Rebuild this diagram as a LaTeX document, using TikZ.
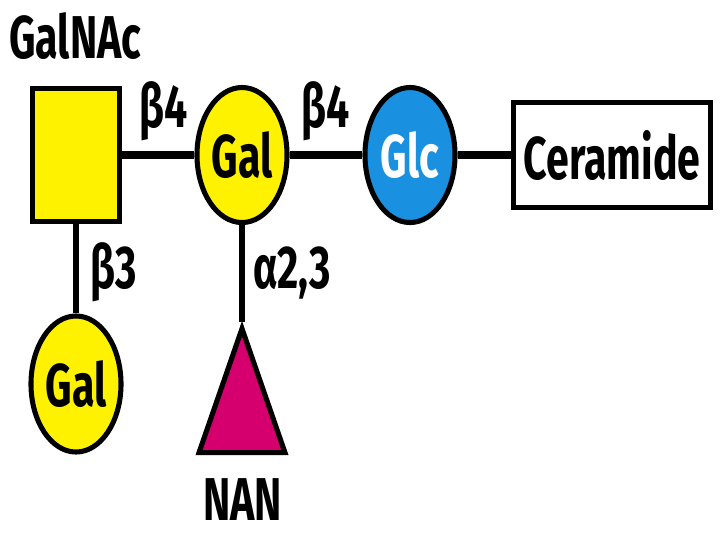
\documentclass[tikz,border=0pt]{standalone}
\usepackage{fontspec}
\setmainfont{Fira Sans}[FakeStretch=0.68]
\usetikzlibrary{shapes,positioning}
\definecolor{galyellow}{HTML}{FFF200}
\definecolor{glcblue}{HTML}{1A90E0}
\definecolor{nanpink}{HTML}{D5006D}

\begin{document}
\begin{tikzpicture}[
    x=0.025cm, y=-0.025cm,
    sugar/.style={ellipse, draw=black, line width=3.6pt, minimum width=2.25cm,
                  minimum height=3.375cm, inner sep=0pt,
                  font=\bfseries\fontsize{43}{48}\selectfont},
    box/.style={rectangle, draw=black, line width=3.6pt, inner sep=0pt},
    bond/.style={line width=3.6pt},
    hbond/.style={line width=5.2pt},
    tag/.style={font=\bfseries\fontsize{43}{48}\selectfont, inner sep=0pt, anchor=base},
]
\useasboundingbox (0,0) rectangle (720,540);
% top row
\node[box, fill=galyellow, minimum width=2.175cm, minimum height=3.325cm] (galnac) at (76,155) {};
\node[sugar, fill=galyellow] (gal) at (242,155) {Gal};
\node[sugar, fill=glcblue, text=white] (glc) at (410,155) {Glc};
\node[box, fill=white, minimum width=4.925cm, minimum height=2.625cm,
      font=\bfseries\fontsize{43}{48}\selectfont] (cer) at (612,155) {Ceramide};
% branches
\node[sugar, fill=galyellow, minimum height=3.4cm] (galb) at (76,384) {Gal};
\node[isosceles triangle, shape border rotate=90, isosceles triangle stretches,
      draw=black, fill=nanpink, line width=3.6pt, inner sep=0pt,
      minimum width=2.15cm, minimum height=3.1cm, anchor=apex] (nan) at (242,322) {};
\draw[hbond] (galnac) -- (gal);
\draw[hbond] (gal) -- (glc);
\draw[hbond] (glc) -- (cer);
\draw[bond] (galnac) -- (galb);
\draw[bond] (gal) -- (nan.apex);
% labels
\node[tag, anchor=base west] (galnacLbl) at (9,58) {GalNAc};
\node[tag] (b4a) at (163.5,127) {β4};
\node[tag] (b4b) at (325.5,127) {β4};
\node[tag] (b3) at (113.5,288) {β3};
\node[tag] (a23) at (292,288) {α2,3};
\node[tag] (nanLbl) at (242.5,520) {NAN};
\end{tikzpicture}
\end{document}
